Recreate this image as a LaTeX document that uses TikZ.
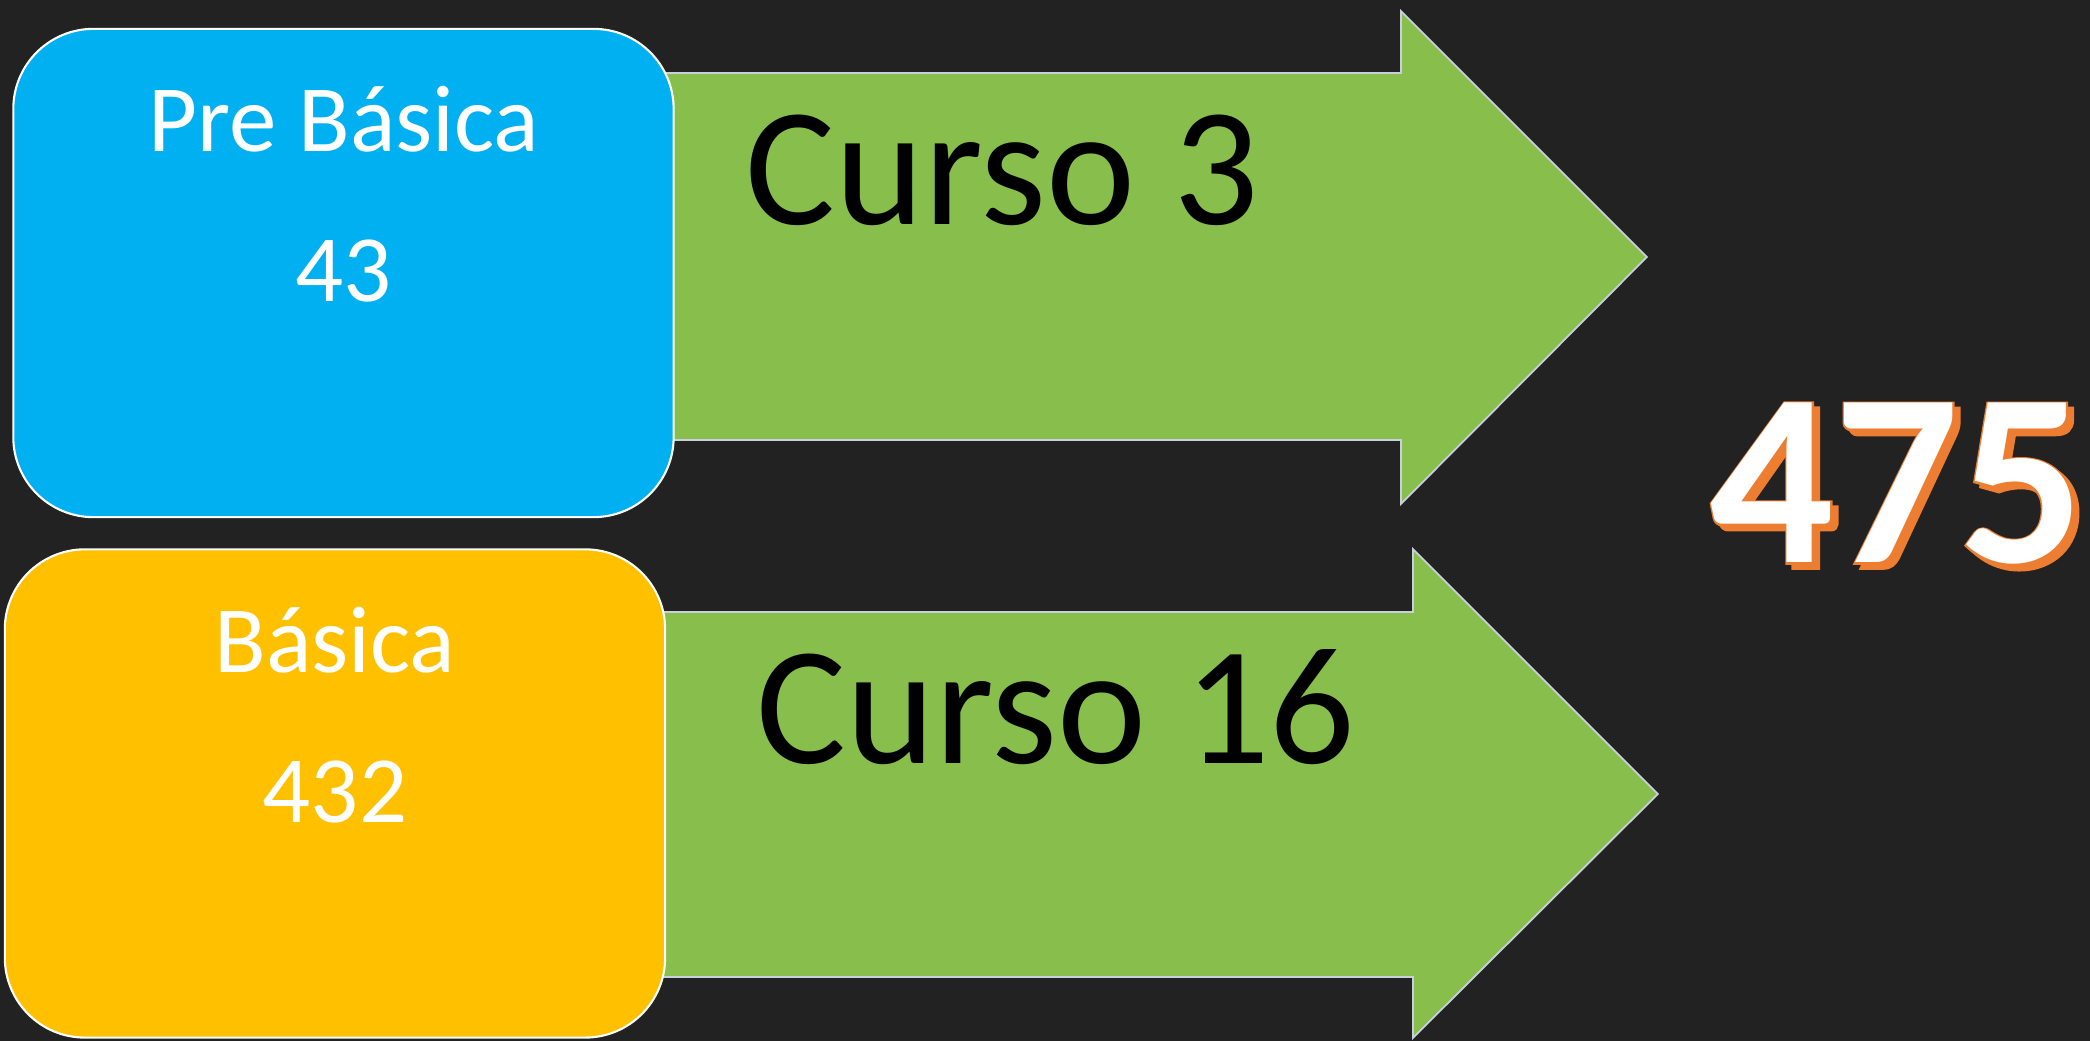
\documentclass[tikz,border=0pt]{standalone}
\usepackage{fontspec}
\setmainfont{Carlito}
\newfontfamily\sumrim{Carlito}[BoldFeatures={FakeBold=1.5}]
\usetikzlibrary{positioning}

\definecolor{board}{RGB}{34,34,34}
\definecolor{preblue}{RGB}{0,176,240}
\definecolor{basicyellow}{RGB}{255,192,0}
\definecolor{arrowgreen}{RGB}{136,190,76}
\definecolor{arrowrim}{RGB}{200,208,222}
\definecolor{sumorange}{RGB}{237,125,49}

\begin{document}
\begin{tikzpicture}[x=0.01cm, y=-0.01cm,
  levelbox/.style={rectangle, rounded corners=0.8cm, draw=white, line width=0.6pt,
    minimum width=6.6cm, minimum height=4.88cm, inner sep=0pt},
  boxtext/.style={text=white, font=\fontsize{27}{32}\selectfont, inner sep=0pt, anchor=base},
  arrowbody/.style={fill=arrowgreen, draw=arrowrim, line width=0.5pt, line join=miter},
  cursotext/.style={text=black, font=\fontsize{48}{56}\selectfont, inner sep=0pt, anchor=base west},
  sumtext/.style={font=\fontsize{70}{80}\selectfont\bfseries, inner sep=0pt, anchor=base}]

  % chalkboard
  \fill[board] (0,0) rectangle (2090,1041);

  % green arrows, behind the boxes
  \draw[arrowbody] (600,73) -- (1401,73) -- (1401,11) -- (1647,257)
    -- (1401,504) -- (1401,440) -- (600,440) -- cycle;
  \draw[arrowbody] (600,612) -- (1413,612) -- (1413,549) -- (1658,794)
    -- (1413,1038) -- (1413,977) -- (600,977) -- cycle;

  % level boxes
  \node[levelbox, fill=preblue] (prebox) at (343.5,273) {};
  \node[levelbox, fill=basicyellow] (basicbox) at (335,793.5) {};

  % box labels
  \node[boxtext] (pretitle) at (344,151) {Pre Básica};
  \node[boxtext, below=1.5cm of pretitle.base, anchor=base] (precount) {43};

  \node[boxtext] (basictitle) at (335,673) {Básica};
  \node[boxtext, below=1.49cm of basictitle.base, anchor=base] (basiccount) {432};

  % arrow labels
  \node[cursotext] (curso3) at (745,225) {Curso 3};
  \node[cursotext] (curso16) at (756,764) {Curso 16};

  % total, white on an orange rim and shadow
  \node[sumtext, text=sumorange] (totalshadow) at (1903,568) {\sumrim 475};
  \node[sumtext, text=sumorange] (totalrim) at (1897,563) {\sumrim 475};
  \node[sumtext, text=white] (total) at (1897,563) {475};

\end{tikzpicture}
\end{document}
